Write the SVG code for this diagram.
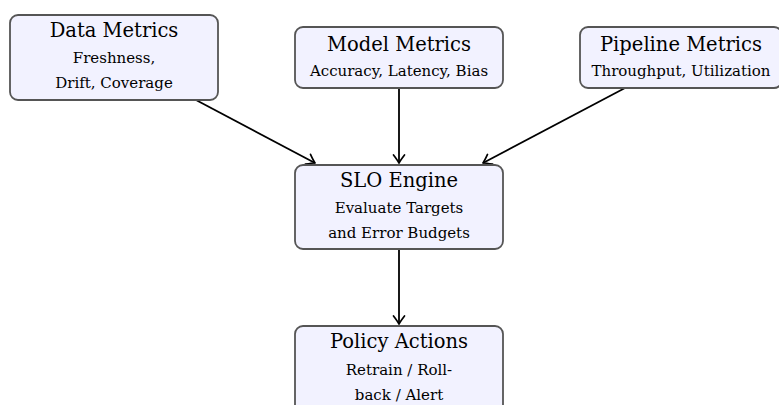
<svg xmlns="http://www.w3.org/2000/svg" width="779" height="405" viewBox="0 0 779 405">
<style>
.box{fill:#f2f2ff;stroke:#555;stroke-width:1.8}
.t{font-family:"DejaVu Serif","Liberation Serif",serif;font-size:19.5px;fill:#000;text-anchor:middle}
.s{font-family:"DejaVu Serif","Liberation Serif",serif;font-size:15px;fill:#000;text-anchor:middle}
.c{stroke:#000;stroke-width:1.8;fill:none;marker-end:url(#arr)}
</style>
<defs>
<marker id="arr" viewBox="-10 -7 12 14" refX="0" refY="0" markerWidth="12" markerHeight="14" markerUnits="userSpaceOnUse" orient="auto">
<path d="M-8,-5.5 Q-2.5,-1.3 0,0 Q-2.5,1.3 -8,5.5" fill="none" stroke="#000" stroke-width="1.7" stroke-linecap="round" stroke-linejoin="round"/>
</marker>
</defs>
<g id="connectors">
<path class="c" d="M196,100 L315,163"/>
<path class="c" d="M399,88 L399,163"/>
<path class="c" d="M625,88 L483,163"/>
<path class="c" d="M399,249 L399,324"/>
</g>
<g id="data-metrics">
<rect class="box" x="10" y="15" width="208" height="85" rx="8"/>
<text class="t" x="114" y="37">Data Metrics</text>
<text class="s" x="114" y="63">Freshness,</text>
<text class="s" x="114" y="88">Drift, Coverage</text>
</g>
<g id="model-metrics">
<rect class="box" x="295" y="27" width="208" height="61" rx="8"/>
<text class="t" x="399" y="51">Model Metrics</text>
<text class="s" x="399" y="76">Accuracy, Latency, Bias</text>
</g>
<g id="pipeline-metrics">
<rect class="box" x="580" y="27" width="202" height="61" rx="8"/>
<text class="t" x="681" y="51">Pipeline Metrics</text>
<text class="s" x="681" y="76">Throughput, Utilization</text>
</g>
<g id="slo-engine">
<rect class="box" x="295" y="165" width="208" height="84" rx="8"/>
<text class="t" x="399" y="187">SLO Engine</text>
<text class="s" x="399" y="213">Evaluate Targets</text>
<text class="s" x="399" y="238">and Error Budgets</text>
</g>
<g id="policy-actions">
<rect class="box" x="295" y="326" width="208" height="92" rx="8"/>
<text class="t" x="399" y="348">Policy Actions</text>
<text class="s" x="399" y="375">Retrain / Roll-</text>
<text class="s" x="399" y="400">back / Alert</text>
</g>
</svg>
